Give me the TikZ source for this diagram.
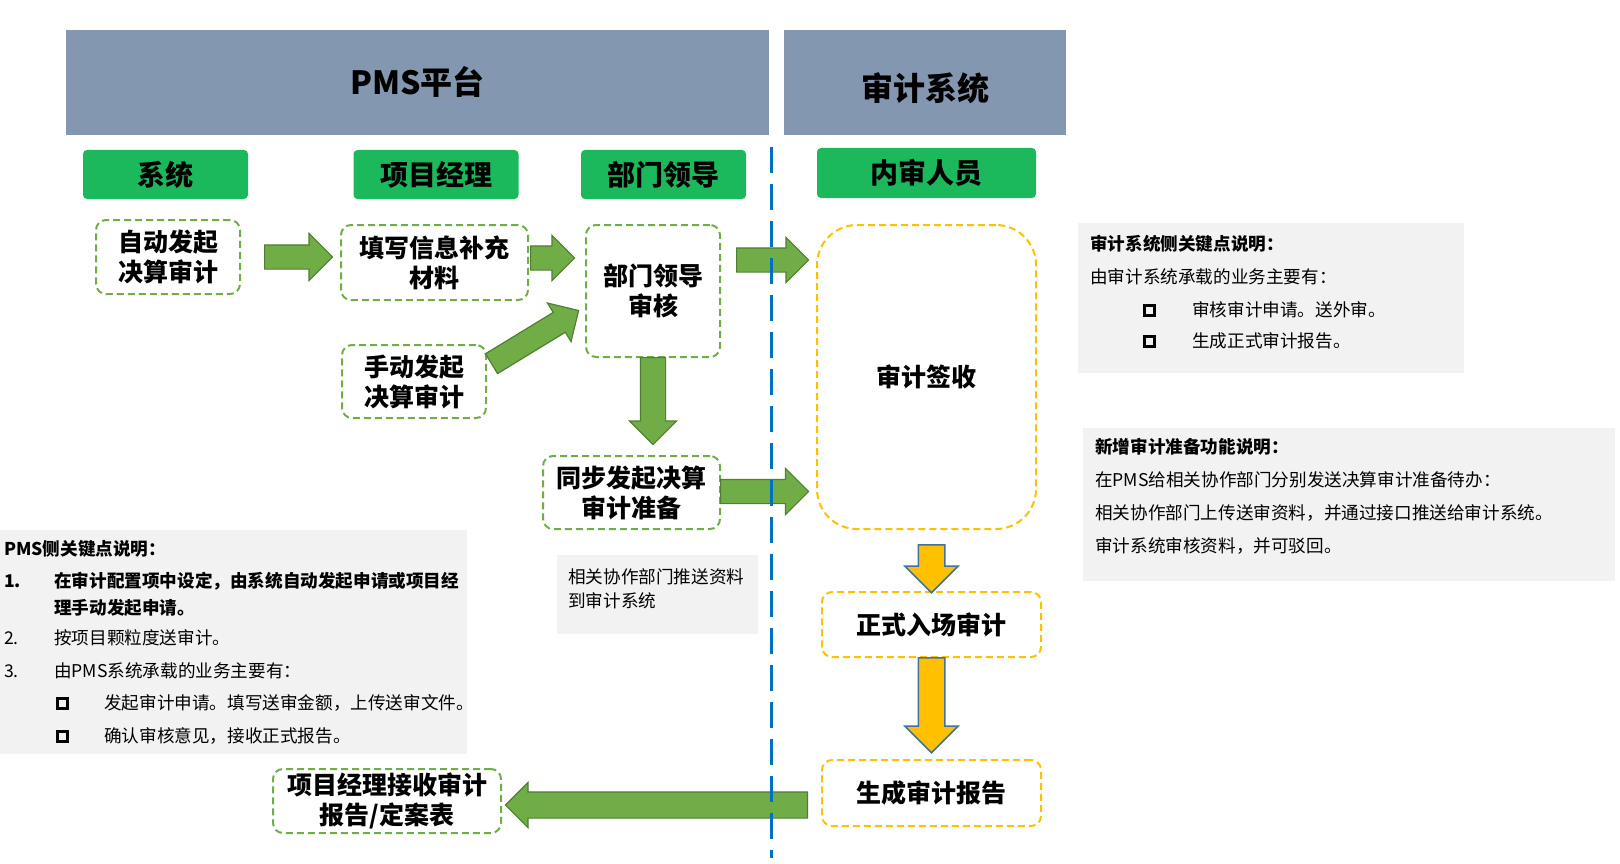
\documentclass[tikz,border=0pt]{standalone}
\usepackage{fontspec}
\setmainfont{Noto Sans CJK SC}
\usetikzlibrary{shapes.arrows}
\definecolor{hdrc}{HTML}{8497B0}
\definecolor{lblc}{RGB}{28,184,92}
\definecolor{gdash}{HTML}{70AD47}
\definecolor{garf}{HTML}{70AD47}
\definecolor{garl}{HTML}{507E32}
\definecolor{yarf}{HTML}{FFC000}
\definecolor{yarl}{HTML}{41719C}
\definecolor{ydash}{HTML}{FFC000}
\definecolor{vlinec}{HTML}{0070C0}
\definecolor{notebg}{HTML}{F2F2F2}
\newcommand{\fsz}[2]{\fontsize{#1}{#2}\selectfont}
\begin{document}
\begin{tikzpicture}[x=1pt,y=-1pt,
  hdrbox/.style={fill=hdrc, inner sep=0pt, minimum height=105pt},
  hdrtxt/.style={inner sep=0pt, font=\bfseries\fsz{32}{38}},
  lbl/.style={fill=lblc, rounded corners=4pt, minimum width=165pt, minimum height=49pt, inner sep=0pt, font=\bfseries\fsz{28}{32}},
  gbox/.style={draw=gdash, line width=2pt, dash pattern=on 7pt off 4pt, rounded corners=10pt, fill=white, align=center, inner sep=0pt, font=\bfseries\fsz{25}{30}},
  ybox/.style={gbox, draw=ydash},
  ntxt/.style={anchor=west, inner sep=0pt, font=\fsz{17.6}{20}},
  nbold/.style={ntxt, font=\bfseries\fsz{17.6}{20}},
  bsq/.style={draw=black, line width=3pt, minimum size=10pt, inner sep=0pt},
  garrow/.style={single arrow, draw=garl, fill=garf, line width=1.2pt, inner xsep=0pt, single arrow tip angle=90, anchor=tail},
  yarrow/.style={single arrow, draw=yarl, fill=yarf, line width=1.5pt, inner xsep=0pt, single arrow tip angle=90, anchor=tail},
  arr/.style n args={4}{minimum height=#1pt, minimum width=#2pt, single arrow head extend=#3pt, inner ysep=#4pt}
]
\useasboundingbox (0,0) rectangle (1620,864);

% headers
\node[hdrbox, minimum width=703pt] (pmsh) at (417.5,82.5) {};
\node[hdrtxt] (pmst) at (417.5,82) {PMS平台};
\node[hdrbox, minimum width=282pt] (audh) at (925,82.5) {};
\node[hdrtxt] (audt) at (925,88) {审计系统};

% role labels
\node[lbl] (l1) at (165.5,174.5) {系统};
\node[lbl] (l2) at (436,174.5) {项目经理};
\node[lbl] (l3) at (663.5,174.5) {部门领导};
\node[lbl, minimum width=219pt, minimum height=50pt] (l4) at (926.5,173) {内审人员};

% notes backgrounds
\fill[notebg] (0,530) rectangle (467,754);
\fill[notebg] (1078,223) rectangle (1464,373);
\fill[notebg] (1083,428) rectangle (1615,581);
\fill[notebg] (557,555) rectangle (758,634);

% process boxes
\node[gbox, minimum width=144pt, minimum height=74pt] (auto) at (168,257) {自动发起\\决算审计};
\node[gbox, minimum width=187pt, minimum height=75pt] (fill) at (434.5,262.5) {填写信息补充\\材料};
\node[gbox, minimum width=134pt, minimum height=132pt] (dept) at (653,291) {部门领导\\审核};
\node[gbox, minimum width=144pt, minimum height=73pt] (manual) at (414,381.5) {手动发起\\决算审计};
\node[gbox, minimum width=177pt, minimum height=73pt] (sync) at (631.5,492.5) {同步发起决算\\审计准备};
\node[gbox, minimum width=228pt, minimum height=64pt] (recv) at (387,801) {项目经理接收审计\\报告/定案表};
\node[ybox, rounded corners=40pt, minimum width=219pt, minimum height=304pt] (sign) at (926.5,377) {审计签收};
\node[ybox, minimum width=219pt, minimum height=65pt] (enter) at (931.5,624.5) {正式入场审计};
\node[ybox, minimum width=219pt, minimum height=66pt] (report) at (931.5,793) {生成审计报告};

% block arrows
\node[garrow, arr={68}{46}{11.5}{11.5}] (a1) at (264,257) {};
\node[garrow, arr={44}{44}{10.5}{11.5}] (a2) at (530,258) {};
\node[garrow, arr={72}{44}{10.5}{11.5}] (a3) at (736,260) {};
\node[garrow, arr={102}{44}{11}{11}, rotate=31.4] (a4) at (491,364) {};
\node[garrow, arr={87}{46}{11}{12}, rotate=-90] (a5) at (653,357) {};
\node[garrow, arr={88}{45}{11}{11.5}] (a6) at (720,491.5) {};
\node[yarrow, arr={48}{52}{13.5}{12.5}, rotate=-90] (a7) at (931.5,544) {};
\node[yarrow, arr={95}{52}{13.5}{12.5}, rotate=-90] (a8) at (931.5,657) {};
\node[garrow, arr={302}{44}{9.5}{12.5}, rotate=180] (a9) at (808,805) {};

% divider
\coordinate (vtop) at (771,147);
\coordinate (vbot) at (771,858);
\draw[vlinec, line width=3pt, dash pattern=on 26pt off 11pt] (vtop) -- (vbot);

% PMS note
\node[nbold] (p0) at (4,549) {PMS侧关键点说明：};
\node[nbold] (p1n) at (4,581) {1.};
\node[nbold] (p1a) at (54,581) {在审计配置项中设定，由系统自动发起申请或项目经};
\node[nbold] (p1b) at (54,608) {理手动发起申请。};
\node[ntxt] (p2n) at (4,638) {2.};
\node[ntxt] (p2) at (54,638) {按项目颗粒度送审计。};
\node[ntxt] (p3n) at (4,671) {3.};
\node[ntxt] (p3) at (54,671) {由PMS系统承载的业务主要有：};
\node[bsq] (pb1) at (62,703) {};
\node[ntxt] (p4) at (104,703) {发起审计申请。填写送审金额，上传送审文件。};
\node[bsq] (pb2) at (62,736) {};
\node[ntxt] (p5) at (104,736) {确认审核意见，接收正式报告。};

% audit-side note
\node[nbold] (s0) at (1090,244) {审计系统侧关键点说明：};
\node[ntxt] (s1) at (1090,277) {由审计系统承载的业务主要有：};
\node[bsq] (sb1) at (1149.5,310) {};
\node[ntxt] (s2) at (1192,310) {审核审计申请。送外审。};
\node[bsq] (sb2) at (1149.5,341) {};
\node[ntxt] (s3) at (1192,341) {生成正式审计报告。};

% new function note
\node[nbold] (n0) at (1095,447) {新增审计准备功能说明：};
\node[ntxt] (n1) at (1095,480) {在PMS给相关协作部门分别发送决算审计准备待办：};
\node[ntxt] (n2) at (1095,513) {相关协作部门上传送审资料，并通过接口推送给审计系统。};
\node[ntxt] (n3) at (1095,546) {审计系统审核资料，并可驳回。};

% small note
\node[ntxt] (c1) at (568,576.5) {相关协作部门推送资料};
\node[ntxt] (c2) at (568,601) {到审计系统};
\end{tikzpicture}
\end{document}
